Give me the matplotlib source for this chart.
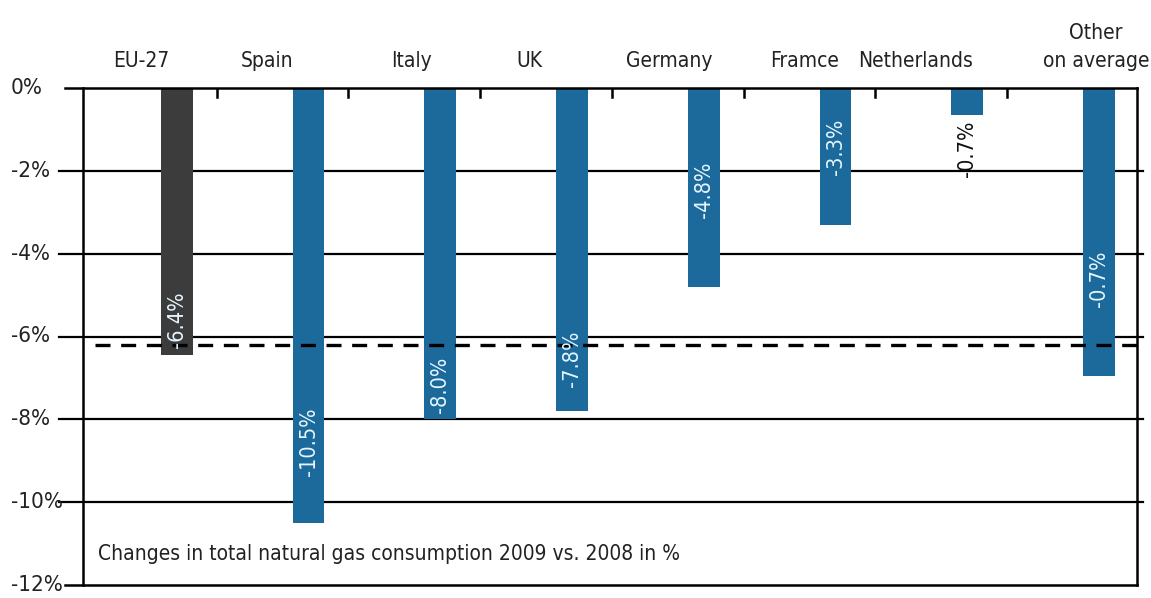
import matplotlib
matplotlib.use("Agg")
import matplotlib.pyplot as plt
import matplotlib.transforms as mtransforms

# Changes in total natural gas consumption, 2009 vs. 2008 (%)
categories = ["EU-27", "Spain", "Italy", "UK", "Germany", "Framce", "Netherlands", "Other\non average"]
values = [-6.45, -10.5, -8.0, -7.8, -4.8, -3.3, -0.65, -6.95]
value_labels = ["-6.4%", "-10.5%", "-8.0%", "-7.8%", "-4.8%", "-3.3%", "-0.7%", "-0.7%"]
reference_line = -6.2
y_ticks = [0, -2, -4, -6, -8, -10, -12]
y_tick_labels = ["0%", "-2%", "-4%", "-6%", "-8%", "-10%", "-12%"]

# styling / placement
BLUE = "#1b6a9b"
GREY = "#3c3c3c"
bar_colors = [GREY] + [BLUE] * 7
bar_offset = 0.712
bar_width = 0.24
cat_label_x = [0.44, 1.40, 2.49, 3.39, 4.45, 5.48, 6.32, 7.69]
value_label_y = [-5.6, -8.55, -7.17, -6.55, -2.46, -1.42, -1.47, -4.61]
value_label_inside = [True, True, True, True, True, True, False, True]

plt.rcParams["font.family"] = ["DejaVu Sans"]
plt.rcParams["font.stretch"] = "condensed"

W, H = 1151, 598
fig = plt.figure(figsize=(W / 100, H / 100), dpi=100)
ax = fig.add_axes([83 / W, 1 - 585 / H, (1137 - 83) / W, (585 - 88) / H])

x = [i + bar_offset for i in range(len(categories))]
ax.bar(x, values, width=bar_width, color=bar_colors, zorder=3)

ax.set_xlim(0, len(categories))
ax.set_ylim(-12, 0)

# horizontal grid lines, reaching slightly past both frames
for yv in y_ticks[1:-1]:
    ax.plot([-24 / 132, 8 + 6 / 132], [yv, yv], color="black", lw=1.6,
            clip_on=False, zorder=1)
ax.plot([-18 / 132, 8], [0, 0], color="black", lw=1.8, clip_on=False, zorder=4)
ax.plot([-18 / 132, 8], [-12, -12], color="black", lw=1.8, clip_on=False, zorder=4)

# reference (dashed) line
ax.plot([12 / 132, 8 + 4 / 132], [reference_line, reference_line], color="black",
        lw=2.4, ls=(0, (4.5, 3.2)), clip_on=False, zorder=5)

# frame
for side in ["top", "bottom"]:
    ax.spines[side].set_visible(False)
for side in ["left", "right"]:
    ax.spines[side].set_linewidth(1.8)
    ax.spines[side].set_zorder(4)
ax.set_xticks([])
ax.set_yticks([])

# small inward ticks along the top between categories
for k in range(1, len(categories)):
    ax.plot([k + 2 / 132, k + 2 / 132], [0, -0.22], color="black", lw=1.8, zorder=4)

# y-axis labels, left-aligned at the figure edge
trans = mtransforms.blended_transform_factory(fig.transFigure, ax.transData)
for yv, lab in zip(y_ticks, y_tick_labels):
    ax.text(11 / W, yv, lab, transform=trans, ha="left", va="center",
            fontsize=16, color="#222222", clip_on=False)

# category names above the plot
for cx, name in zip(cat_label_x, categories):
    ax.text(cx, 0.42, name, ha="center", va="bottom", fontsize=15,
            color="#222222", linespacing=1.45, clip_on=False)

# value labels, rotated
for xi, ly, lab, inside in zip(x, value_label_y, value_labels, value_label_inside):
    ax.text(xi, ly, lab, rotation=90, ha="center", va="center", fontsize=15.5,
            color="#e6f6ff" if inside else "#111111", zorder=6)

ax.text((98 - 83) / (1137 - 83), -11.25,
        "Changes in total natural gas consumption 2009 vs. 2008 in %",
        transform=mtransforms.blended_transform_factory(ax.transAxes, ax.transData),
        ha="left", va="center", fontsize=15, color="#222222")

fig.savefig("out.png", dpi=100)
